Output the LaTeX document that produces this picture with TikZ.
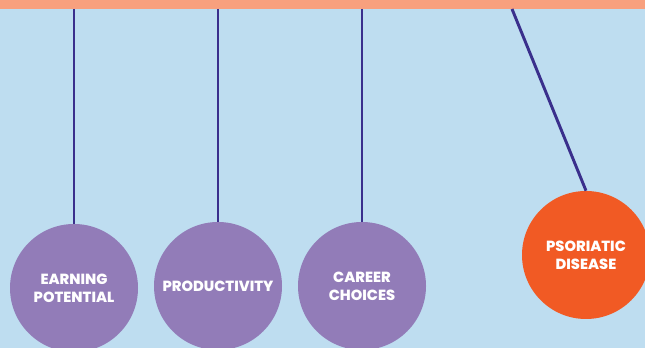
\documentclass[tikz,border=0pt]{standalone}
\usepackage{fontspec}
\setmainfont{Poppins}[BoldFont=* ExtraBold]
\usepackage{tikz}
\usetikzlibrary{positioning}
\definecolor{skyback}{HTML}{BEDDF0}
\definecolor{barsalmon}{HTML}{F8A07E}
\definecolor{ballpurple}{HTML}{927CB8}
\definecolor{ballorange}{HTML}{F15A24}
\definecolor{stringblue}{HTML}{3A2F8C}
\tikzset{
    ball/.style={circle, minimum size=96pt, inner sep=0pt, text=white,
        font=\bfseries\fontsize{11}{13.5}\selectfont, align=center},
    string/.style={stringblue, line width=2.2pt},
}

\begin{document}
\begin{tikzpicture}[x=0.75pt,y=-0.75pt]
\useasboundingbox (0,0) rectangle (645,348);
\clip (0,0) rectangle (645,348);
\fill[skyback] (0,0) rectangle (645,348);
\fill[barsalmon] (0,0) rectangle (645,9);
% balls
\node[ball, fill=ballpurple] (earning) at (74,288) {EARNING\\POTENTIAL};
\node[ball, fill=ballpurple] (product) at (218,286) {PRODUCTIVITY};
\node[ball, fill=ballpurple] (career) at (362,286) {CAREER\\CHOICES};
\node[ball, fill=ballorange] (psoriatic) at (586,255) {PSORIATIC\\DISEASE};
% strings
\coordinate (top1) at (74,9);
\coordinate (top2) at (218,9);
\coordinate (top3) at (362,9);
\coordinate (top4) at (512,9);
\draw[string] (top1) -- (earning.north);
\draw[string] (top2) -- (product.north);
\draw[string] (top3) -- (career.north);
\draw[string] (top4) -- (psoriatic.north);
\end{tikzpicture}
\end{document}
